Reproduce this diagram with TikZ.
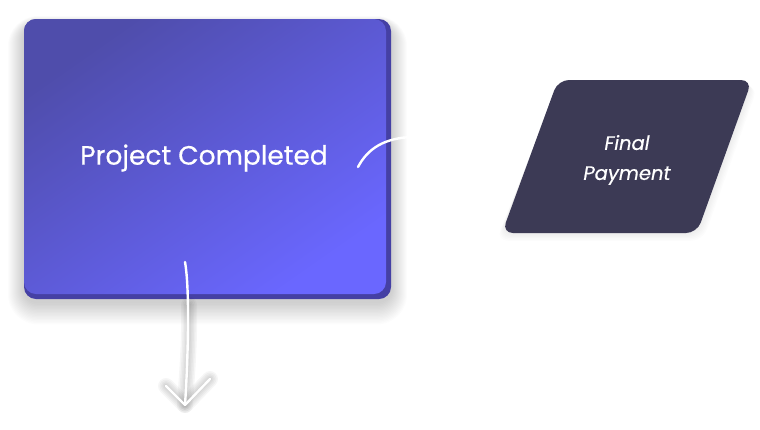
\documentclass[tikz,border=0pt]{standalone}
\usepackage{fontspec}
\setmainfont{Poppins}[FakeBold=0.5]
\definecolor{pcdark}{HTML}{4F4DAB}
\definecolor{pclight}{HTML}{6A67FF}
\definecolor{pcedge}{HTML}{4540A4}
\definecolor{fpfill}{HTML}{3C3A55}
\tikzset{
  boxlabel/.style={text=white, font=\fontsize{26.5}{30}\selectfont, inner sep=0pt},
  paralabel/.style={text=white, font=\itshape\fontsize{19.5}{30}\selectfont, align=center, inner sep=0pt},
  chalk/.style={draw=white, line width=2.4pt, line cap=round, line join=round},
  chalkshadow/.style={draw=black, line cap=round, line join=round},
}
\begin{document}
\begin{tikzpicture}[x=1pt,y=-1pt]
\useasboundingbox (0,0) rectangle (760,429);
% shadow of the box
\foreach \i in {1,...,16}{
  \fill[black, opacity=0.013, rounded corners=14+\i]
    (24-\i*1.0,19-\i*0.5+5) rectangle (391+\i*1.0,299+\i*1.4+3);
}
% 3D edge
\fill[pcedge, rounded corners=12] (24,19) rectangle (391,299);
% face
\shade[rounded corners=12, top color=pcdark, bottom color=pclight, shading angle=35]
  (24,19) rectangle (386,294);
\node[boxlabel] (pc) at (204,158) {Project Completed};

% shadow of parallelogram
\foreach \i in {1,...,6}{
  \fill[black, opacity=0.012, rounded corners=12]
    (558,80+\i) -- (752+\i,80+\i) -- (697+\i,233+\i*1.3) -- (502-\i,233+\i*1.3) -- cycle;
}
\fill[fpfill, rounded corners=11] (558,80) -- (752,80) -- (697,233) -- (502,233) -- cycle;
\node[paralabel] (fp) at (627,160) {Final\\Payment};

% connectors
\coordinate (c1s) at (358,167);
\coordinate (c1e) at (412,137);
\draw[chalk] (c1s) .. controls (368,148) and (385,138) .. (c1e);

\coordinate (c2s) at (185,262);
\coordinate (c2e) at (185,405);
\coordinate (c2l) at (166,386);
\coordinate (c2r) at (210,379);
\begin{scope}[yshift=-5pt]
\foreach \w in {4,7,10,13,16}{
  \draw[chalkshadow, line width=\w pt, opacity=0.035] (189,300) .. controls (190,340) and (186,380) .. (c2e);
  \draw[chalkshadow, line width=\w pt, opacity=0.035] (c2l) -- (c2e) -- (c2r);
}
\end{scope}
\draw[chalk] (c2s) .. controls (190,290) and (188,360) .. (c2e);
\draw[chalk] (c2l) -- (c2e) -- (c2r);
\end{tikzpicture}
\end{document}
